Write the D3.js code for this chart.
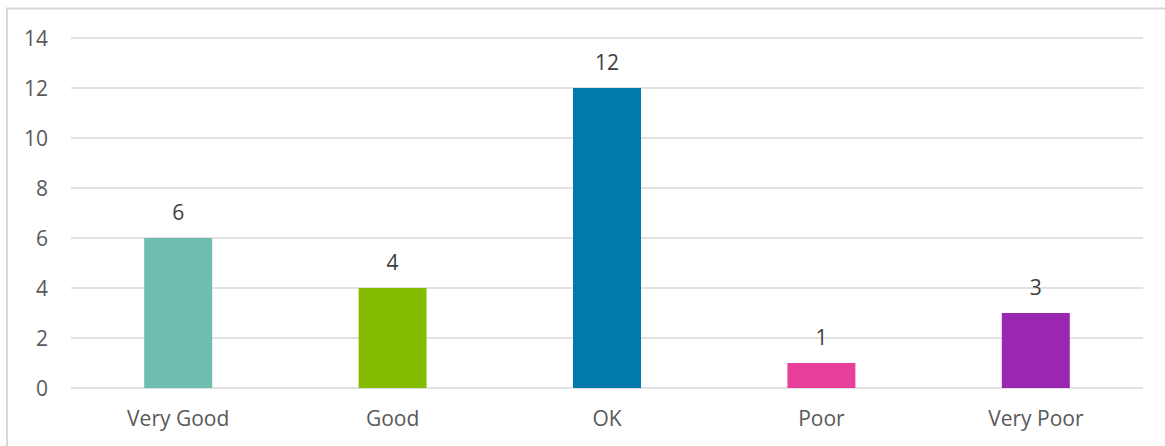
<!DOCTYPE html>
<html>
<head>
<meta charset="utf-8">
<script src="https://cdn.jsdelivr.net/npm/d3@7"></script>
<style>
  html, body { margin: 0; padding: 0; background: #fff; }
  svg { display: block; font-family: "Open Sans", sans-serif; }
</style>
</head>
<body>
<svg id="chart" width="1165" height="446"></svg>
<script>
// Ratings and counts
const categories = ["Very Good", "Good", "OK", "Poor", "Very Poor"];
const counts = [6, 4, 12, 1, 3];
const barColors = ["#6dbdb0", "#84bd00", "#0079ac", "#e8409a", "#9a26b2"];
const yTicks = [0, 2, 4, 6, 8, 10, 12, 14];

const svg = d3.select("#chart");
const W = 1165, H = 446;
const plot = { left: 71, right: 1143, top: 38, bottom: 388 };

// Chart frame (left and top edges visible)
svg.append("rect")
  .attr("x", 7).attr("y", 8.5)
  .attr("width", W + 10).attr("height", H + 10)
  .attr("fill", "none")
  .attr("stroke", "#d9d9d9")
  .attr("stroke-width", 2);

const x = d3.scaleBand()
  .domain(categories)
  .range([plot.left, plot.right])
  .paddingInner(0.683)
  .paddingOuter(0.683 / 2);

const y = d3.scaleLinear()
  .domain([0, 14])
  .range([plot.bottom, plot.top]);

// Horizontal gridlines
svg.append("g")
  .selectAll("line")
  .data(yTicks)
  .join("line")
  .attr("x1", plot.left).attr("x2", plot.right)
  .attr("y1", d => y(d)).attr("y2", d => y(d))
  .attr("stroke", "#d9d9d9")
  .attr("stroke-width", 1.5);

// Y axis labels
const yAxis = d3.axisLeft(y).tickValues(yTicks).tickSize(0).tickPadding(0);
const gy = svg.append("g")
  .attr("transform", `translate(48,0)`)
  .call(yAxis);
gy.select(".domain").remove();
gy.selectAll("text")
  .attr("fill", "#595959")
  .attr("font-size", 21)
  .attr("font-family", "Open Sans, sans-serif")
  .attr("dy", "0.36em");

// Bars
svg.append("g")
  .selectAll("rect")
  .data(categories)
  .join("rect")
  .attr("x", d => x(d))
  .attr("width", x.bandwidth())
  .attr("y", (d, i) => y(counts[i]))
  .attr("height", (d, i) => y(0) - y(counts[i]))
  .attr("fill", (d, i) => barColors[i]);

// Value labels above bars
svg.append("g")
  .selectAll("text")
  .data(categories)
  .join("text")
  .attr("x", d => x(d) + x.bandwidth() / 2)
  .attr("y", (d, i) => y(counts[i]) - 18)
  .attr("text-anchor", "middle")
  .attr("fill", "#404040")
  .attr("font-size", 21)
  .text((d, i) => counts[i]);

// Category axis labels
const xAxis = d3.axisBottom(x).tickSize(0).tickPadding(0);
const gx = svg.append("g")
  .attr("transform", `translate(0,${plot.bottom})`)
  .call(xAxis);
gx.select(".domain").remove();
gx.selectAll("text")
  .attr("fill", "#595959")
  .attr("font-size", 21)
  .attr("font-family", "Open Sans, sans-serif")
  .attr("dy", 0)
  .attr("y", 38);
</script>
</body>
</html>
